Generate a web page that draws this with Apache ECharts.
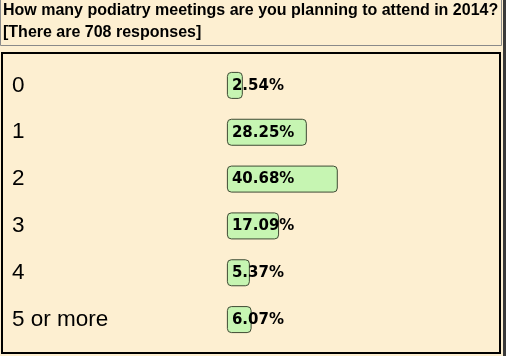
<!DOCTYPE html>
<html>
<head>
<meta charset="utf-8">
<script src="https://cdn.jsdelivr.net/npm/echarts@6/dist/echarts.min.js"></script>
<style>
  html, body { margin: 0; padding: 0; background: #fdefd1; }
  #chart { width: 506px; height: 356px; }
</style>
</head>
<body>
<div id="chart"></div>
<script>
const titleLines = ['How many podiatry meetings are you planning to attend in 2014?', '[There are 708 responses]'];
const categories = ['0', '1', '2', '3', '4', '5 or more'];
const percents = [2.54, 28.25, 40.68, 17.09, 5.37, 6.07];

const chart = echarts.init(document.getElementById('chart'), null, { renderer: 'canvas' });
const BAR_PAD = 8.6;   // bar extends this many px left of zero (cell padding)
const BAR_H = 26;

chart.setOption({
  backgroundColor: '#fdefd1',
  animation: false,
  grid: { left: 236, top: 62, width: 249, height: 281, containLabel: false },
  xAxis: { type: 'value', min: 0, max: 100, show: false },
  yAxis: {
    type: 'category', data: categories, inverse: true,
    axisLine: { show: false }, axisTick: { show: false }, splitLine: { show: false },
    axisLabel: {
      align: 'left', margin: 224, color: '#000',
      fontFamily: 'Liberation Sans, Arial, sans-serif', fontSize: 22.5
    }
  },
  graphic: [
    { type: 'rect', shape: { x: 0.5, y: -1, width: 501, height: 46.5 }, style: { fill: 'none', stroke: '#8a8a8a', lineWidth: 1 } },
    { type: 'rect', shape: { x: 503, y: 0, width: 3, height: 356 }, style: { fill: '#3a3a3a' } },
    { type: 'rect', shape: { x: 2, y: 53, width: 498, height: 300 }, style: { fill: 'none', stroke: '#000', lineWidth: 2 } },
    { type: 'text', x: 3, y: 11, style: { text: titleLines[0], fill: '#000', font: 'bold 16px "Liberation Sans", Arial, sans-serif', verticalAlign: 'middle' } },
    { type: 'text', x: 3, y: 33, style: { text: titleLines[1], fill: '#000', font: 'bold 16px "Liberation Sans", Arial, sans-serif', verticalAlign: 'middle' } }
  ],
  series: [{
    type: 'custom',
    data: percents.map((v, i) => [v, i]),
    encode: { x: 0, y: 1 },
    renderItem: function (params, api) {
      const v = api.value(0);
      const i = api.value(1);
      const start = api.coord([0, i]);
      const end = api.coord([v, i]);
      const x0 = start[0] - BAR_PAD;
      const cy = start[1];
      return {
        type: 'group',
        children: [
          {
            type: 'rect',
            shape: { x: x0, y: cy - BAR_H / 2, width: end[0] - x0, height: BAR_H, r: 4 },
            style: { fill: '#c6f5b2', stroke: '#3f4a34', lineWidth: 1 }
          },
          {
            type: 'text',
            x: x0 + 4.5, y: cy + 0.5,
            style: {
              text: v.toFixed(2) + '%', fill: '#000',
              font: 'bold 15px "DejaVu Sans", sans-serif',
              verticalAlign: 'middle', align: 'left'
            }
          }
        ]
      };
    }
  }]
});
</script>
</body>
</html>
